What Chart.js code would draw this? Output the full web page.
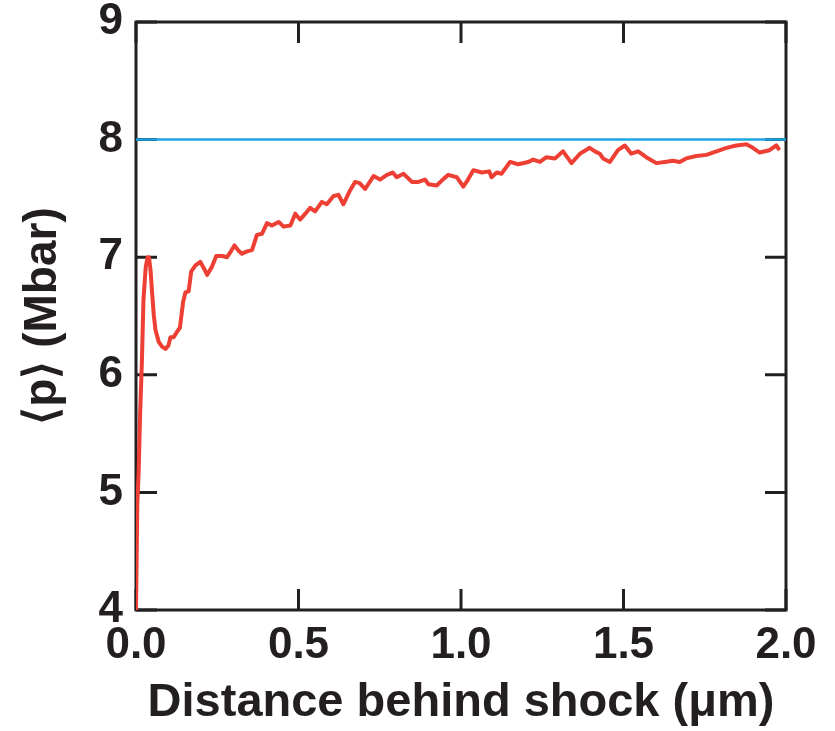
<!DOCTYPE html>
<html>
<head>
<meta charset="utf-8">
<script src="https://cdn.jsdelivr.net/npm/chart.js@4.4.1/dist/chart.umd.min.js"></script>
<style>
  html, body { margin: 0; padding: 0; background: #ffffff; }
  #wrap { width: 835px; height: 731px; }
</style>
</head>
<body>
<div id="wrap"><canvas id="c" width="835" height="731"></canvas></div>
<script>
// ---- data ----
const distance = [
  0.000, 0.004, 0.008, 0.013, 0.018, 0.023, 0.030, 0.036, 0.040, 0.045,
  0.049, 0.055, 0.060, 0.070, 0.080, 0.091, 0.100, 0.106, 0.116, 0.125,
  0.135, 0.145, 0.152, 0.162, 0.170, 0.183, 0.198, 0.210, 0.219, 0.234,
  0.247, 0.265, 0.280, 0.292, 0.303, 0.314, 0.326, 0.342, 0.357, 0.372,
  0.388, 0.403, 0.418, 0.439, 0.454, 0.475, 0.490, 0.505, 0.521, 0.536,
  0.551, 0.572, 0.587, 0.608, 0.623, 0.638, 0.659, 0.674, 0.688, 0.705,
  0.731, 0.751, 0.772, 0.790, 0.802, 0.823, 0.849, 0.869, 0.889, 0.900,
  0.925, 0.948, 0.961, 0.987, 1.007, 1.017, 1.038, 1.064, 1.087, 1.094,
  1.110, 1.125, 1.151, 1.176, 1.207, 1.222, 1.243, 1.263, 1.289, 1.314,
  1.340, 1.366, 1.396, 1.412, 1.427, 1.437, 1.458, 1.483, 1.504, 1.524,
  1.545, 1.570, 1.601, 1.627, 1.652, 1.673, 1.693, 1.724, 1.755, 1.786,
  1.817, 1.847, 1.878, 1.898, 1.919, 1.949, 1.970, 1.980
];
const pressure = [
  4.00, 4.90, 5.16, 5.70, 6.10, 6.64, 6.92, 7.00, 7.00, 6.88,
  6.72, 6.50, 6.38, 6.28, 6.24, 6.22, 6.25, 6.32, 6.32, 6.36,
  6.40, 6.62, 6.70, 6.71, 6.88, 6.93, 6.96, 6.90, 6.85, 6.92,
  7.01, 7.01, 7.00, 7.05, 7.10, 7.06, 7.03, 7.05, 7.06, 7.19,
  7.20, 7.29, 7.27, 7.30, 7.26, 7.27, 7.37, 7.32, 7.37, 7.42,
  7.39, 7.47, 7.45, 7.52, 7.53, 7.45, 7.57, 7.64, 7.63, 7.58,
  7.69, 7.66, 7.70, 7.72, 7.68, 7.71, 7.64, 7.64, 7.66, 7.62,
  7.61, 7.67, 7.70, 7.68, 7.60, 7.64, 7.74, 7.72, 7.73, 7.68,
  7.72, 7.71, 7.81, 7.79, 7.81, 7.83, 7.81, 7.85, 7.84, 7.90,
  7.80, 7.88, 7.93, 7.90, 7.88, 7.84, 7.81, 7.91, 7.95, 7.88,
  7.90, 7.85, 7.80, 7.81, 7.82, 7.81, 7.84, 7.86, 7.87, 7.90,
  7.93, 7.95, 7.96, 7.93, 7.89, 7.91, 7.95, 7.91
];
const refDistance = [0.0, 2.0];
const refPressure = [8.0, 8.0];
const xTicks = [0.0, 0.5, 1.0, 1.5, 2.0];
const yTicks = [4, 5, 6, 7, 8, 9];
const xTitle = 'Distance behind shock (\u03BCm)';
const yTitle = '\u27E8p\u27E9 (Mbar)';

// ---- build ----
const curve = distance.map((d, i) => ({ x: d, y: pressure[i] }));
const ref = refDistance.map((d, i) => ({ x: d, y: refPressure[i] }));

const FONT = "'Liberation Sans', Arial, Helvetica, sans-serif";
const INK = '#231f20';

const framePlugin = {
  id: 'frameTicks',
  beforeDatasetsDraw(chart) {
    const { ctx, chartArea: a, scales } = chart;
    const L = 21;
    ctx.save();
    ctx.strokeStyle = INK;
    ctx.lineWidth = 3;
    ctx.lineCap = 'butt';
    ctx.beginPath();
    xTicks.forEach(v => {
      const px = scales.x.getPixelForValue(v);
      ctx.moveTo(px, a.bottom); ctx.lineTo(px, a.bottom - L);
      ctx.moveTo(px, a.top); ctx.lineTo(px, a.top + L);
    });
    yTicks.forEach(v => {
      const py = scales.y.getPixelForValue(v);
      ctx.moveTo(a.left, py); ctx.lineTo(a.left + L, py);
      ctx.moveTo(a.right, py); ctx.lineTo(a.right - L, py);
    });
    ctx.stroke();
    ctx.strokeRect(a.left, a.top, a.right - a.left, a.bottom - a.top);
    ctx.restore();
  }
};

new Chart(document.getElementById('c'), {
  type: 'scatter',
  data: {
    datasets: [
      {
        label: 'reference',
        data: ref,
        showLine: true,
        borderColor: '#1ba6df',
        borderWidth: 2.5,
        pointRadius: 0,
        tension: 0,
        order: 2
      },
      {
        label: 'pressure',
        data: curve,
        showLine: true,
        borderColor: '#ee3f34',
        borderWidth: 4,
        pointRadius: 0,
        tension: 0,
        borderJoinStyle: 'round',
        order: 1
      }
    ]
  },
  options: {
    responsive: false,
    animation: false,
    devicePixelRatio: 1,
    layout: { padding: { top: 22, right: 49, bottom: 0, left: 0 } },
    plugins: { legend: { display: false }, tooltip: { enabled: false } },
    scales: {
      x: {
        type: 'linear',
        min: 0, max: 2,
        afterBuildTicks: s => { s.ticks = xTicks.map(v => ({ value: v })); },
        ticks: {
          color: INK,
          padding: 14,
          maxRotation: 0,
          autoSkip: false,
          font: { family: FONT, size: 44, weight: 'bold', lineHeight: 1 },
          callback: v => Number(v).toFixed(1)
        },
        grid: { display: false, drawTicks: false },
        border: { display: false },
        title: {
          display: true,
          text: xTitle,
          color: INK,
          padding: { top: 0, bottom: 0 },
          font: { family: FONT, size: 47, weight: 'bold', lineHeight: 1.2 }
        },
        afterFit: s => { s.height = 121; s.paddingLeft = 0; s.paddingRight = 0; }
      },
      y: {
        type: 'linear',
        min: 4, max: 9,
        afterBuildTicks: s => { s.ticks = yTicks.map(v => ({ value: v })); },
        ticks: {
          color: INK,
          padding: 13,
          autoSkip: false,
          font: { family: FONT, size: 44, weight: 'bold', lineHeight: 1 },
          callback: v => String(v)
        },
        grid: { display: false, drawTicks: false },
        border: { display: false },
        title: {
          display: true,
          text: yTitle,
          color: INK,
          padding: { top: 16, bottom: 0 },
          font: { family: FONT, size: 46, weight: 'bold', lineHeight: 1.2 }
        },
        afterFit: s => { s.width = 136; s.paddingTop = 0; s.paddingBottom = 0; }
      }
    }
  },
  plugins: [framePlugin]
});
</script>
</body>
</html>
